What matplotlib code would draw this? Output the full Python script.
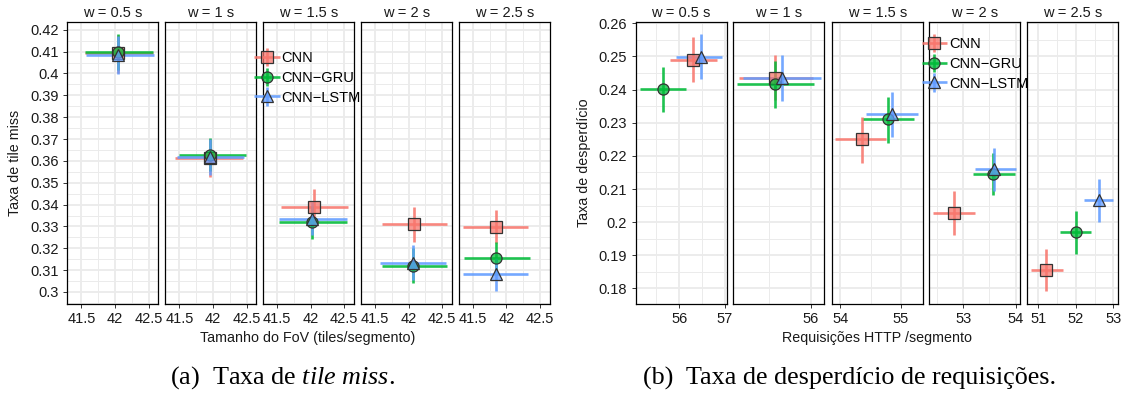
import numpy as np
import matplotlib
matplotlib.use("Agg")
import matplotlib.pyplot as plt
from matplotlib.lines import Line2D
from matplotlib.legend_handler import HandlerBase
from matplotlib.colors import to_rgba

plt.rcParams['font.family'] = ['Liberation Sans', 'DejaVu Sans']
plt.rcParams['mathtext.fontset'] = 'custom'
plt.rcParams['mathtext.rm'] = 'Liberation Serif'
plt.rcParams['mathtext.it'] = 'Liberation Serif:italic'

# ---------------- data ----------------
models = ['CNN', 'CNN\u2212GRU', 'CNN\u2212LSTM']
windows = ['w = 0.5 s', 'w = 1 s', 'w = 1.5 s', 'w = 2 s', 'w = 2.5 s']

# (a) tile miss rate vs FoV size
miss_cnn_x = [42.05, 41.955, 42.05, 42.08, 41.85]
miss_cnn_xlo = [41.56, 41.44, 41.56, 41.60, 41.355]
miss_cnn_xhi = [42.57, 42.44, 42.56, 42.57, 42.33]
miss_cnn_y = [0.4092, 0.3614, 0.3391, 0.3310, 0.3299]
miss_cnn_ylo = [0.4003, 0.3528, 0.3310, 0.3231, 0.3223]
miss_cnn_yhi = [0.4178, 0.3700, 0.3470, 0.3391, 0.3376]

miss_gru_x = [42.05, 41.96, 42.02, 42.06, 41.85]
miss_gru_xlo = [41.56, 41.50, 41.53, 41.60, 41.36]
miss_gru_xhi = [42.57, 42.49, 42.54, 42.57, 42.35]
miss_gru_y = [0.4098, 0.3626, 0.3319, 0.3121, 0.3154]
miss_gru_ylo = [0.4015, 0.3555, 0.3244, 0.3043, 0.3078]
miss_gru_yhi = [0.4180, 0.3706, 0.3395, 0.3200, 0.3230]

miss_lstm_x = [42.05, 41.96, 42.02, 42.06, 41.85]
miss_lstm_xlo = [41.57, 41.46, 41.53, 41.58, 41.355]
miss_lstm_xhi = [42.58, 42.46, 42.54, 42.55, 42.33]
miss_lstm_y = [0.4085, 0.3620, 0.3336, 0.3134, 0.3081]
miss_lstm_ylo = [0.3998, 0.3536, 0.3260, 0.3055, 0.3004]
miss_lstm_yhi = [0.4170, 0.3700, 0.3410, 0.3216, 0.3155]

miss_xticks = [41.5, 42, 42.5]
miss_xticklabels = ['41.5', '42', '42.5']
miss_yticks = [0.30, 0.31, 0.32, 0.33, 0.34, 0.35, 0.36, 0.37, 0.38, 0.39, 0.40, 0.41, 0.42]
miss_yticklabels = ['0.3', '0.31', '0.32', '0.33', '0.34', '0.35', '0.36', '0.37',
                    '0.38', '0.39', '0.4', '0.41', '0.42']

# (b) waste rate vs HTTP requests
waste_cnn_x = [56.31, 55.57, 54.36, 52.83, 51.22]
waste_cnn_xlo = [55.80, 55.14, 53.92, 52.43, 50.81]
waste_cnn_xhi = [56.82, 56.02, 54.76, 53.22, 51.65]
waste_cnn_y = [0.2489, 0.2436, 0.2250, 0.2028, 0.1857]
waste_cnn_ylo = [0.2424, 0.2368, 0.2180, 0.1960, 0.1791]
waste_cnn_yhi = [0.2560, 0.2506, 0.2318, 0.2093, 0.1920]

waste_gru_x = [55.65, 55.57, 54.79, 53.57, 52.00]
waste_gru_xlo = [55.14, 55.12, 54.36, 53.19, 51.57]
waste_gru_xhi = [56.16, 56.04, 55.22, 53.99, 52.40]
waste_gru_y = [0.2401, 0.2416, 0.2311, 0.2145, 0.1970]
waste_gru_ylo = [0.2331, 0.2345, 0.2239, 0.2081, 0.1905]
waste_gru_yhi = [0.2469, 0.2486, 0.2378, 0.2209, 0.2033]

waste_lstm_x = [56.47, 55.65, 54.86, 53.59, 52.62]
waste_lstm_xlo = [55.93, 55.19, 54.43, 53.22, 52.22]
waste_lstm_xhi = [56.94, 56.12, 55.29, 54.01, 53.00]
waste_lstm_y = [0.2499, 0.2436, 0.2325, 0.2159, 0.2066]
waste_lstm_ylo = [0.2431, 0.2365, 0.2256, 0.2093, 0.2001]
waste_lstm_yhi = [0.2567, 0.2506, 0.2393, 0.2225, 0.2130]

waste_xticks = [[56, 57], [56], [54, 55], [53, 54], [51, 52, 53]]
waste_xlims = [(55.05, 57.04), (55.07, 56.16), (53.86, 55.36), (52.35, 54.08), (50.71, 53.13)]
waste_yticks = [0.18, 0.19, 0.20, 0.21, 0.22, 0.23, 0.24, 0.25, 0.26]
waste_yticklabels = ['0.18', '0.19', '0.2', '0.21', '0.22', '0.23', '0.24', '0.25', '0.26']

# ---------------- style ----------------
colors = ['#F8766D', '#00BA38', '#619CFF']
markers = ['s', 'o', '^']
msizes = [8, 8, 9]
FS = 10.5
W, H = 1126, 394
fig = plt.figure(figsize=(W / 100, H / 100), dpi=100)

def px_axes(x0, x1, ytop, ybot):
    return fig.add_axes([x0 / W, 1 - ybot / H, (x1 - x0) / W, (ybot - ytop) / H])

def style_axes(ax, xlim, ylim, xt, xtl, yt, ytl, show_y):
    ax.set_xlim(*xlim)
    ax.set_ylim(*ylim)
    ax.set_xticks(xt)
    ax.set_xticklabels(xtl)
    ax.set_yticks(yt)
    if show_y:
        ax.set_yticklabels(ytl)
    else:
        ax.tick_params(axis='y', left=False, labelleft=False)
    xt_arr = np.asarray(xt, dtype=float)
    step = (xt_arr[1] - xt_arr[0]) if len(xt) > 1 else 1.0
    xminor = np.arange(xt_arr[0] - 3 * step - step / 2, xt_arr[-1] + 3 * step, step)
    xminor = [v for v in xminor if xlim[0] < v < xlim[1]]
    ax.set_xticks(xminor, minor=True)
    yt_arr = np.asarray(yt, dtype=float)
    ystep = yt_arr[1] - yt_arr[0]
    yminor = [v for v in np.arange(yt_arr[0] - ystep / 2, yt_arr[-1] + ystep, ystep)
              if ylim[0] < v < ylim[1]]
    ax.set_yticks(yminor, minor=True)
    ax.grid(True, which='major', color='#EBEBEB', lw=1.3, zorder=0)
    ax.grid(True, which='minor', color='#EBEBEB', lw=0.7, zorder=0)
    ax.set_axisbelow(True)
    ax.tick_params(which='minor', length=0)
    ax.tick_params(which='major', length=2.6, width=0.7, color='#333333', pad=3.5,
                   labelsize=FS, labelcolor='#1a1a1a')
    for s in ax.spines.values():
        s.set_color('black')
        s.set_linewidth(0.9)

def draw_panel(ax, series, i):
    for (x, xlo, xhi, y, ylo, yhi), c in zip(series, colors):
        ax.plot([xlo[i], xhi[i]], [y[i], y[i]], color=c, lw=1.9, alpha=0.88,
                solid_capstyle='butt', zorder=2)
    for (x, xlo, xhi, y, ylo, yhi), c, m, ms in zip(series, colors, markers, msizes):
        ax.plot([x[i], x[i]], [ylo[i], yhi[i]], color=c, lw=1.9, alpha=0.88,
                solid_capstyle='butt', zorder=3)
        ax.plot([x[i]], [y[i]], marker=m, ms=ms, mfc=to_rgba(c, 0.75), mec='#333333',
                mew=0.9, ls='none', zorder=4)

miss_series = [
    (miss_cnn_x, miss_cnn_xlo, miss_cnn_xhi, miss_cnn_y, miss_cnn_ylo, miss_cnn_yhi),
    (miss_gru_x, miss_gru_xlo, miss_gru_xhi, miss_gru_y, miss_gru_ylo, miss_gru_yhi),
    (miss_lstm_x, miss_lstm_xlo, miss_lstm_xhi, miss_lstm_y, miss_lstm_ylo, miss_lstm_yhi),
]
waste_series = [
    (waste_cnn_x, waste_cnn_xlo, waste_cnn_xhi, waste_cnn_y, waste_cnn_ylo, waste_cnn_yhi),
    (waste_gru_x, waste_gru_xlo, waste_gru_xhi, waste_gru_y, waste_gru_ylo, waste_gru_yhi),
    (waste_lstm_x, waste_lstm_xlo, waste_lstm_xhi, waste_lstm_y, waste_lstm_ylo, waste_lstm_yhi),
]

left_px = [(67.3, 158.3), (165.3, 256.3), (263, 354), (361, 452), (459, 549.5)]
right_px = [(635.7, 726.7), (733.3, 824.3), (831.7, 922.7), (929, 1020), (1027.3, 1118.3)]
ytop, ybot = 21.7, 304

for i, (x0, x1) in enumerate(left_px):
    ax = px_axes(x0, x1, ytop, ybot)
    style_axes(ax, (41.29, 42.645), (0.2945, 0.4237), miss_xticks, miss_xticklabels,
               miss_yticks, miss_yticklabels, i == 0)
    draw_panel(ax, miss_series, i)
    ax.set_title(windows[i], fontsize=FS, color='#1a1a1a', pad=3.5)

for i, (x0, x1) in enumerate(right_px):
    ax = px_axes(x0, x1, ytop, ybot)
    xt = waste_xticks[i]
    style_axes(ax, waste_xlims[i], (0.1753, 0.2605), xt, [str(v) for v in xt],
               waste_yticks, waste_yticklabels, i == 0)
    draw_panel(ax, waste_series, i)
    ax.set_title(windows[i], fontsize=FS, color='#1a1a1a', pad=3.5)

# axis titles
fig.text(308 / W, 1 - 338 / H, 'Tamanho do FoV (tiles/segmento)', ha='center', va='center',
         fontsize=10.3, color='#1a1a1a')
fig.text(877 / W, 1 - 338 / H, 'Requisi\u00e7\u00f5es HTTP /segmento', ha='center', va='center',
         fontsize=10.3, color='#1a1a1a')
fig.text(15.5 / W, 1 - 163 / H, 'Taxa de tile miss', rotation=90, ha='center', va='center',
         fontsize=10.3, color='#1a1a1a')
fig.text(584 / W, 1 - 163 / H, 'Taxa de desperd\u00edcio', rotation=90, ha='center', va='center',
         fontsize=10.3, color='#1a1a1a')

# captions
fig.text(282 / W, 1 - 378 / H, r'(a)  Taxa de $\mathit{tile\ miss}$.', ha='center', va='center',
         fontsize=18.8, family='Liberation Serif')
fig.text(850 / W, 1 - 378 / H, '(b)  Taxa de desperd\u00edcio de requisi\u00e7\u00f5es.', ha='center',
         va='center', fontsize=18.8, family='Liberation Serif')

# legends
class HandlerCross(HandlerBase):
    def create_artists(self, legend, orig_handle, xdescent, ydescent, width, height, fontsize, trans):
        c = orig_handle.get_color()
        m = orig_handle.get_marker()
        ms = orig_handle.get_markersize()
        cx = -xdescent + width / 2
        cy = (height - ydescent) / 2
        h = Line2D([-xdescent, -xdescent + width], [cy, cy], color=c, lw=1.9, alpha=0.88,
                   solid_capstyle='butt', transform=trans)
        v = Line2D([cx, cx], [cy - 6.5, cy + 6.5], color=c, lw=1.9, alpha=0.88,
                   solid_capstyle='butt', transform=trans)
        p = Line2D([cx], [cy], marker=m, ms=ms, mfc=to_rgba(c, 0.75), mec='#333333', mew=0.9,
                   ls='none', transform=trans)
        return [h, v, p]

handles = [Line2D([], [], color=c, marker=m, ms=ms) for c, m, ms in zip(colors, markers, msizes)]
for (lx, ly) in [(254, 51.5), (921.5, 37.5)]:
    fig.legend(handles, models, handler_map={Line2D: HandlerCross()}, loc='upper left',
               bbox_to_anchor=(lx / W, 1 - ly / H), frameon=False, fontsize=FS,
               handlelength=1.75, handletextpad=0.15, labelspacing=0.38, borderpad=0,
               borderaxespad=0)

fig.savefig('out.png', dpi=100)
